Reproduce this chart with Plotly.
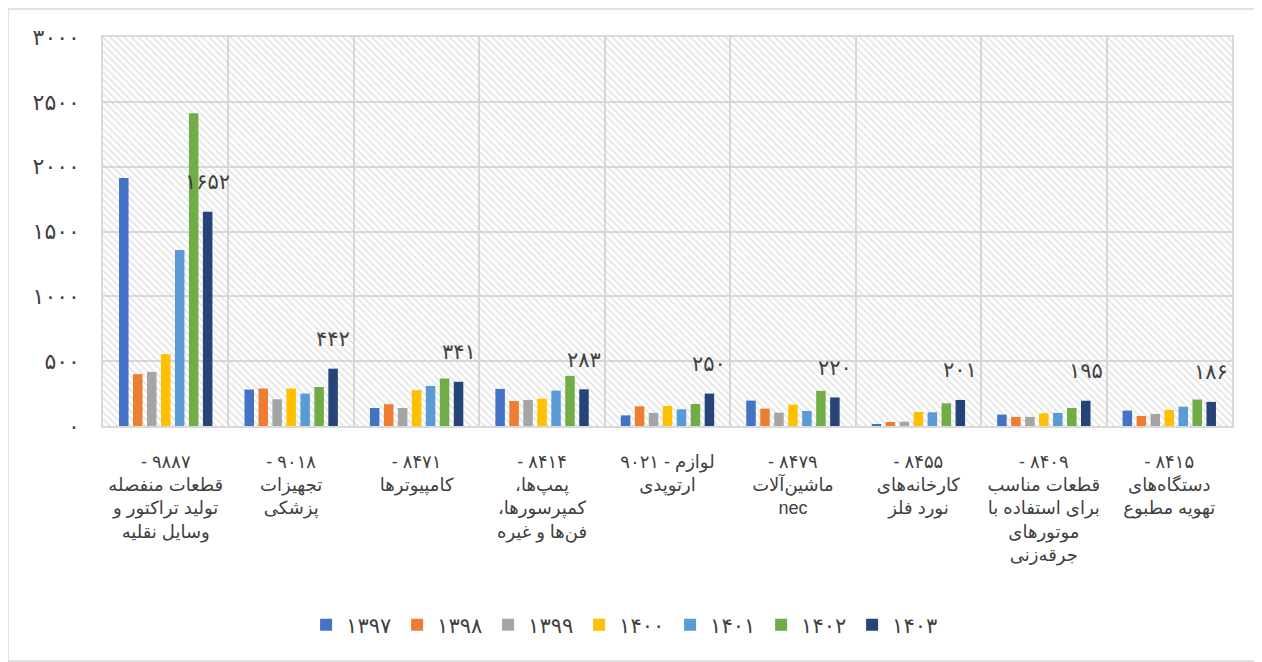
import plotly.graph_objects as go

FA_DIGITS = str.maketrans("0123456789", "۰۱۲۳۴۵۶۷۸۹")
LRM, RLM = "\u200e", "\u200f"


def fa(n):
    return str(n).translate(FA_DIGITS)


def ltr(s):
    return LRM + s + LRM


def rtl(s):
    return RLM + s + RLM


categories = [
    "<br>".join([ltr("- ۹۸۸۷"), rtl("قطعات منفصله"), rtl("تولید تراکتور و"), rtl("وسایل نقلیه")]),
    "<br>".join([ltr("- ۹۰۱۸"), rtl("تجهیزات"), rtl("پزشکی")]),
    "<br>".join([ltr("- ۸۴۷۱"), rtl("کامپیوترها")]),
    "<br>".join([ltr("- ۸۴۱۴"), rtl("پمپ‌ها،"), rtl("کمپرسورها،"), rtl("فن‌ها و غیره")]),
    "<br>".join([rtl("لوازم - ۹۰۲۱"), rtl("ارتوپدی")]),
    "<br>".join([ltr("- ۸۴۷۹"), rtl("ماشین‌آلات"), "nec"]),
    "<br>".join([ltr("- ۸۴۵۵"), rtl("کارخانه‌های"), rtl("نورد فلز")]),
    "<br>".join([ltr("- ۸۴۰۹"), rtl("قطعات مناسب"), rtl("برای استفاده با"), rtl("موتورهای"), rtl("جرقه‌زنی")]),
    "<br>".join([ltr("- ۸۴۱۵"), rtl("دستگاه‌های"), rtl("تهویه مطبوع")]),
]

years = ["۱۳۹۷", "۱۳۹۸", "۱۳۹۹", "۱۴۰۰", "۱۴۰۱", "۱۴۰۲", "۱۴۰۳"]
colors = ["#4472C4", "#ED7D31", "#A5A5A5", "#FFC000", "#5B9BD5", "#70AD47", "#264478"]

v1397 = [1912, 281, 139, 286, 82, 196, 15, 88, 119]
v1398 = [400, 289, 168, 193, 152, 134, 31, 70, 77]
v1399 = [417, 206, 139, 201, 101, 103, 33, 70, 93]
v1400 = [554, 289, 276, 211, 155, 165, 108, 98, 124]
v1401 = [1358, 250, 309, 273, 129, 116, 106, 101, 149]
v1402 = [2411, 301, 366, 387, 170, 271, 175, 139, 204]
v1403 = [1652, 442, 341, 283, 250, 220, 201, 195, 186]
series = [v1397, v1398, v1399, v1400, v1401, v1402, v1403]

y_tick_vals = [0, 500, 1000, 1500, 2000, 2500, 3000]
y_tick_text = ["۰", "۵۰۰", "۱۰۰۰", "۱۵۰۰", "۲۰۰۰", "۲۵۰۰", "۳۰۰۰"]

FONT = "Liberation Sans, DejaVu Sans, Arial, sans-serif"
TEXT = "#404040"
GRID = "#d9d9d9"

# page has an 8px body margin, figure sits at (8, 8)
W, H = 1254, 654
ML, MR, MT, MB = 95, 30, 29, 236
PW, PH = W - ML - MR, H - MT - MB
BARGAP = 0.22

fig = go.Figure()

# hatched plot background (main subplot, under the data subplot)
fig.add_trace(go.Bar(
    x=[0.5], y=[1], width=[1], xaxis="x2", yaxis="y2",
    marker=dict(color="#cccccc", line_width=0,
                pattern=dict(shape="\\", size=5, solidity=0.35,
                             fgcolor="#cccccc", bgcolor="rgba(255,255,255,0)")),
    showlegend=False, hoverinfo="skip",
))

for name, vals, col in zip(years, series, colors):
    fig.add_trace(go.Bar(x=categories, y=vals, name=name, marker_color=col,
                         marker_line_width=0))

# value labels over the last series
slot = PW / len(categories) * (1 - BARGAP) / len(series)
for cat, v in zip(categories, v1403):
    fig.add_annotation(x=cat, y=v, xref="x", yref="y", text=fa(v),
                       showarrow=False, xshift=3 * slot, yshift=30,
                       font=dict(size=21, color=TEXT, family=FONT))

fig.update_layout(
    width=W, height=H,
    margin=dict(l=ML, r=MR, t=MT, b=MB),
    paper_bgcolor="white", plot_bgcolor="white",
    barmode="group", bargap=BARGAP, bargroupgap=0.32,
    font=dict(family=FONT, color=TEXT),
    xaxis=dict(type="category", overlaying="x2", tickson="boundaries",
               showgrid=True, gridcolor=GRID, gridwidth=1.5,
               showline=True, mirror=True, linecolor=GRID, linewidth=2,
               ticks="", ticklabelstandoff=18,
               tickfont=dict(size=18, color=TEXT)),
    yaxis=dict(range=[0, 3000], overlaying="y2", tickvals=y_tick_vals,
               ticktext=y_tick_text, showgrid=True, gridcolor=GRID,
               gridwidth=1.5, zeroline=False, showline=True, mirror=True,
               linecolor=GRID, linewidth=1.5, ticks="", ticklabelstandoff=17,
               tickfont=dict(size=22, color=TEXT)),
    xaxis2=dict(range=[0, 1], visible=False, fixedrange=True),
    yaxis2=dict(range=[0, 1], visible=False, fixedrange=True),
    legend=dict(orientation="h", x=0.462, xanchor="center", y=-0.512,
                yanchor="middle", font=dict(size=21, color=TEXT),
                itemwidth=30, entrywidth=46, tracegroupgap=0),
    showlegend=True,
)

# chart area border along the figure edge
fig.add_shape(type="rect", xref="paper", yref="paper",
              x0=-ML / PW, x1=(W - ML - 1) / PW,
              y0=-(MB - 1) / PH, y1=(PH + MT - 1) / PH,
              line=dict(color=GRID, width=1.5), layer="below")

fig.write_html("out.html")
